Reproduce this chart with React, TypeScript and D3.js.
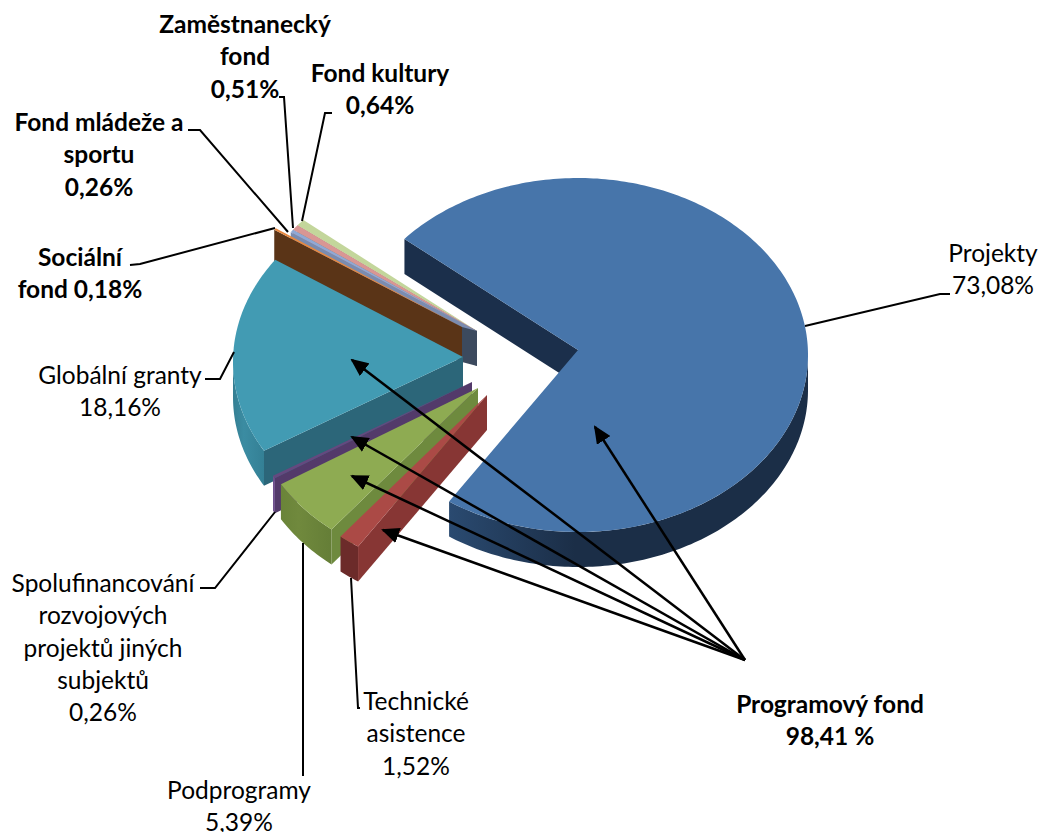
import React from "react";
import * as d3 from "d3";

const categories = ["Projekty", "Technické asistence", "Podprogramy", "Spolufinancování rozvojových projektů jiných subjektů", "Globální granty", "Sociální fond", "Fond mládeže a sportu", "Zaměstnanecký fond", "Fond kultury"];
const shares = [73.08, 1.52, 5.39, 0.26, 18.16, 0.18, 0.26, 0.51, 0.64];

const rad = Math.PI / 180;
const CX = 578, CY = 350, RX = 230, RY = 177, DEPTH = 35, RIM_DY = 5;
const explodeX = [0, -91, -100, -106, -115, -116, -101, -101, -101];
const explodeY = [0, 45, 38, 32, 7, -23, -19, -19, -19];
const topColors = ["#4775aa", "#ab4a46", "#8eab52", "#65497f", "#429bb3", "#e8883f", "#8fa9d6", "#d99694", "#c3d69b"];
const faceColors = ["#1b2f4b", "#873634", "#6e8a3e", "#533a6a", "#2c6679", "#5a3417", "#7a8cb0", "#a86b6a", "#7f8f5f"];
const wallIds = ["wall0", "wall1", "wall2", "wall3", "wall4", "wall5", "wall6", "wall7", "wall8"];
const wallStops: [string, string, string][] = [
  ["#2a4a70", "#1b2e47", "#1b2e47"],
  ["#6c2b2a", "#6c2b2a", "#6c2b2a"],
  ["#6a8439", "#70893d", "#657e37"],
  ["#6d4f8c", "#6d4f8c", "#6d4f8c"],
  ["#357f93", "#3b8ca2", "#348095"],
  ["#5a3417", "#5a3417", "#5a3417"],
  ["#7a8cb0", "#7a8cb0", "#7a8cb0"],
  ["#a86b6a", "#a86b6a", "#a86b6a"],
  ["#7f8f5f", "#7f8f5f", "#7f8f5f"],
];

type Label = { lines: string[]; x: number; y: number; bold?: boolean };
const labels: Label[] = [
  { lines: ["Zaměstnanecký", "fond", "0,51%"], x: 245, y: 33, bold: true },
  { lines: ["Fond kultury", "0,64%"], x: 380, y: 82, bold: true },
  { lines: ["Fond mládeže a", "sportu", "0,26%"], x: 99, y: 131, bold: true },
  { lines: ["Sociální", "fond 0,18%"], x: 80, y: 266, bold: true },
  { lines: ["Globální granty", "18,16%"], x: 120, y: 384 },
  { lines: ["Projekty", "73,08%"], x: 993, y: 262 },
  { lines: ["Spolufinancování", "rozvojových", "projektů jiných", "subjektů", "0,26%"], x: 103, y: 592 },
  { lines: ["Podprogramy", "5,39%"], x: 239, y: 799 },
  { lines: ["Technické", "asistence", "1,52%"], x: 416, y: 710 },
  { lines: ["Programový fond", "98,41 %"], x: 830, y: 713, bold: true },
];
const leaders: [number, number][][] = [
  [[279, 97], [284, 97], [293, 228]],
  [[332, 113], [325, 113], [302, 221]],
  [[188, 130], [200, 130], [288, 232]],
  [[130, 265], [140, 264], [275, 228]],
  [[205, 379], [220, 379], [234, 352]],
  [[950, 294], [940, 294], [805, 326]],
  [[200, 588], [215, 588], [275, 512]],
  [[303, 776], [303, 543]],
  [[360, 708], [358, 708], [351, 578]],
];
const arrowFrom: [number, number] = [745, 660];
const arrowTo: [number, number][] = [[595, 427], [383, 530], [352, 476], [352, 437], [352, 360]];

const x0 = d3.scaleLinear().domain([-1, 1]).range([-RX, RX]);
const y0 = d3.scaleLinear().domain([-1, 1]).range([-RY, RY]);
const pts = d3.line<[number, number]>();
const arcs = d3.pie<number>().sort(null).value(d => d).startAngle(-49 * rad).endAngle(311 * rad)(shares);

function rim(i: number, t: number): [number, number] {
  return [CX + explodeX[i] + x0(Math.sin(t)), CY + RIM_DY + explodeY[i] + y0(-Math.cos(t))];
}
function down(p: [number, number]): [number, number] {
  return [p[0], p[1] + DEPTH];
}
function sample(a: number, b: number): number[] {
  const n = Math.max(2, Math.ceil((b - a) / (1 * rad)));
  return d3.range(n + 1).map(k => a + ((b - a) * k) / n);
}

export default function App() {
  const apex = (i: number): [number, number] => [CX + explodeX[i], CY + explodeY[i]];
  // painter's order, back to front
  const order = [8, 7, 6, 5, 0, 4, 3, 2, 1];
  const slate = [apex(5), apex(8), down(apex(8)), down(apex(5))];
  return (
    <svg width={1040} height={832} style={{ position: "absolute", left: 0, top: 0, background: "#fff" }} fontFamily="Lato, Carlito, sans-serif">
      <defs>
        {wallIds.map((id, i) => (
          <linearGradient key={id} id={id}>
            <stop offset="0" stopColor={wallStops[i][0]} />
            <stop offset="0.35" stopColor={wallStops[i][1]} />
            <stop offset="1" stopColor={wallStops[i][2]} />
          </linearGradient>
        ))}
        <marker id="head" viewBox="0 0 18 16" refX="16" refY="8" markerWidth="18" markerHeight="16" markerUnits="userSpaceOnUse" orient="auto">
          <path d="M0,0 L18,8 L0,16 Z" fill="#000" />
        </marker>
      </defs>
      {order.map(i => {
        const a = arcs[i];
        const start = a.startAngle, end = a.endAngle;
        const apx = apex(i);
        const face = [apx, rim(i, start), down(rim(i, start)), down(apx)];
        const wa = Math.max(start, 90 * rad), wb = Math.min(end, 270 * rad);
        const arcPts = sample(start, end).map(t => rim(i, t));
        const wallTop = wb > wa ? sample(wa, wb).map(t => rim(i, t)) : [];
        const wall = wallTop.length ? [...wallTop, ...wallTop.slice().reverse().map(down)] : [];
        return (
          <g key={categories[i]}>
            {wall.length > 0 && <path d={pts(wall) + "Z"} fill={`url(#${wallIds[i]})`} />}
            <path d={pts(face) + "Z"} fill={faceColors[i]} />
            <path d={pts([apx, ...arcPts]) + "Z"} fill={topColors[i]} />
            {i === 5 && <path d={pts(slate) + "Z"} fill="#3c4a5e" />}
          </g>
        );
      })}
      {leaders.map((l, i) => (
        <path key={i} d={pts(l) ?? ""} fill="none" stroke="#000" strokeWidth={2} />
      ))}
      {arrowTo.map((p, i) => (
        <line key={i} x1={arrowFrom[0]} y1={arrowFrom[1]} x2={p[0]} y2={p[1]} stroke="#000" strokeWidth={2.5} markerEnd="url(#head)" />
      ))}
      {labels.map(l => (
        <text key={l.lines[0]} x={l.x} y={l.y} textAnchor="middle" fontSize={24.5} fontWeight={l.bold ? 700 : 400} fill="#000">
          {l.lines.map((s, i) => (
            <tspan key={i} x={l.x} dy={i === 0 ? 0 : 32.3}>{s}</tspan>
          ))}
        </text>
      ))}
    </svg>
  );
}
